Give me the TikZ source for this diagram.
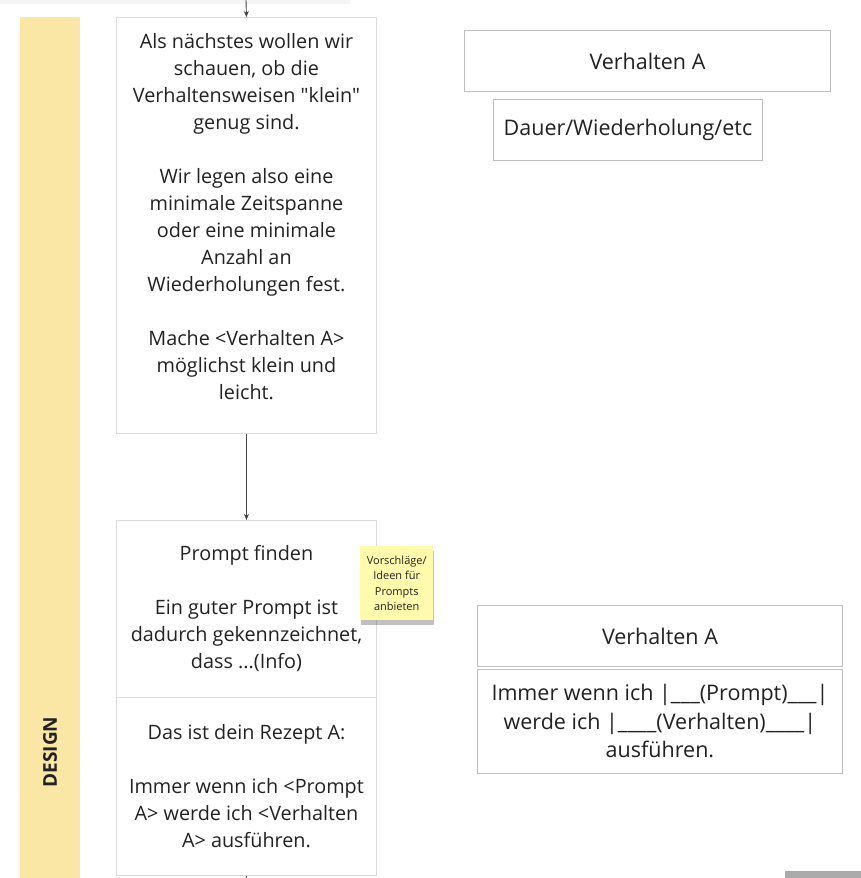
\documentclass[tikz,border=0pt]{standalone}
\usepackage{fontspec}
\setmainfont{Open Sans}[Ligatures=TeXOff]
\usetikzlibrary{arrows.meta, positioning, shadows}

\definecolor{band_yellow}{RGB}{250,231,165}
\definecolor{note_yellow}{RGB}{255,250,172}
\definecolor{box_line}{RGB}{218,218,218}
\definecolor{card_line}{RGB}{190,190,190}
\definecolor{ink}{RGB}{34,34,34}

\begin{document}
\begin{tikzpicture}[
    x=1pt, y=-1pt,
    step_box/.style={draw=box_line, line width=0.9pt, fill=white, anchor=north west,
        minimum width=260, inner sep=0pt, align=center, text=ink,
        font=\fontsize{19.8}{27}\selectfont},
    step_text/.style={inner sep=0pt, align=center, text=ink, font=\fontsize{19.8}{27}\selectfont},
    card/.style={draw=card_line, line width=0.9pt, fill=white, anchor=north west,
        inner sep=0pt, align=center, text=ink, font=\fontsize{21.5}{28.5}\selectfont},
    sticky/.style={fill=note_yellow, anchor=north west, minimum width=73, minimum height=74,
        inner sep=0pt, align=center, text=ink, font=\fontsize{11}{15.5}\selectfont,
        drop shadow={shadow xshift=1pt, shadow yshift=-5pt, opacity=0.35, fill=black!70}},
    flow/.style={draw=ink!85, line width=0.9pt}
]
    \useasboundingbox (0,0) rectangle (861,878);

    % shadow of the card above (cut off)
    \fill[black!4] (0,0) rectangle (350,4);

    % DESIGN band at left
    \fill[band_yellow] (20,17) rectangle (80,878);
    \node[rotate=90, font=\fontsize{19}{19}\bfseries, text=ink] (design) at (50,752) {DESIGN};

    % Step 1: small behaviour
    \node[step_box, minimum height=416] (step_small) at (116,17) {};
    \node[step_text] (step_small_txt) at ([yshift=9pt]step_small.center) {%
        Als nächstes wollen wir\\schauen, ob die\\Verhaltensweisen "klein"\\genug sind.\\[27pt]
        Wir legen also eine\\minimale Zeitspanne\\oder eine minimale\\Anzahl an\\Wiederholungen fest.\\[27pt]
        Mache <Verhalten A>\\möglichst klein und\\leicht.};

    % Step 2: prompt
    \node[step_box, minimum height=177] (step_prompt) at (116,520) {%
        Prompt finden\\[27pt]
        Ein guter Prompt ist\\dadurch gekennzeichnet,\\dass ...(Info)};

    % Step 3: recipe
    \node[step_box, minimum height=178] (step_recipe) at (116,697) {%
        Das ist dein Rezept A:\\[27pt]
        Immer wenn ich <Prompt\\A> werde ich <Verhalten\\A> ausführen.};

    % sticky note
    \node[sticky] (note_prompts) at (360,546) {Vorschläge/\\Ideen für\\Prompts\\anbieten};

    % cards on the right
    \node[card, minimum width=366, minimum height=61] (card_behav) at (464,30) {Verhalten A};
    \node[card, minimum width=269, minimum height=61] (card_dur) at (493,99) {Dauer/Wiederholung/etc};
    \node[card, minimum width=365, minimum height=61] (card_behav2) at (477,605) {Verhalten A};
    \node[card, minimum width=365, minimum height=104] (card_recipe) at (477,669) {%
        Immer wenn ich |\_\_\_(Prompt)\_\_\_|\\werde ich |\_\_\_\_(Verhalten)\_\_\_\_|\\ausführen.};

    % gray bar at bottom right
    \fill[black!33] (785,871) rectangle (861,878);

    % connectors
    \coordinate (flow_in) at (246,0);
    \coordinate (flow_out) at (246,878);
    \draw[flow, -{Stealth[length=6pt, width=5pt]}] (flow_in) -- (step_small.north);
    \draw[flow, -{Stealth[length=6pt, width=5pt]}] (step_small.south) -- (step_prompt.north);
    \draw[flow] (step_recipe.south) -- (flow_out);
\end{tikzpicture}
\end{document}
